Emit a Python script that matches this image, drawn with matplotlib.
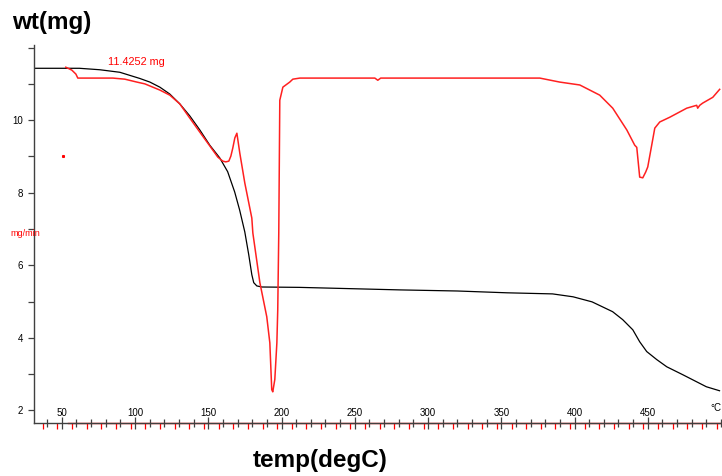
import numpy as np
import matplotlib.pyplot as plt
from matplotlib.ticker import MultipleLocator

# TG trace (black): temperature in degC, weight in mg
tg_temp = [31, 62, 75.9, 89.6, 103.2, 110.1, 116.9, 123.7, 130.5, 137.3,
           144.2, 151.0, 157.8, 163.2, 168.0, 171.4, 174.9, 177.6, 179.7,
           181.0, 183.1, 186.5, 212, 281, 320, 354, 385, 399, 412, 426,
           432.9, 439.8, 444.5, 449.3, 456.1, 463, 474, 490, 499]
tg_wt = [11.43, 11.43, 11.39, 11.32, 11.15, 11.05, 10.91, 10.72, 10.45,
         10.12, 9.73, 9.31, 8.96, 8.58, 8.02, 7.52, 6.92, 6.29, 5.74, 5.52,
         5.43, 5.40, 5.39, 5.32, 5.29, 5.24, 5.21, 5.13, 4.99, 4.72, 4.50,
         4.22, 3.89, 3.62, 3.40, 3.20, 2.98, 2.65, 2.54]

# DTG trace (red), drawn on the same scale
dtg_temp = [52.7, 56.8, 59.6, 60.9, 84.8, 93.0, 101.2, 106.7, 112.1, 116.9,
            123.7, 130.5, 137.3, 144.2, 151.0, 156.5, 159.9, 161.9, 164.0,
            165.4, 166.7, 168.1, 169.5, 171.5, 174.9, 179.7, 180.4, 185.2,
            189.9, 192.0, 193.3, 194.0, 195.4, 196.8, 197.4, 198.1, 198.8,
            200.9, 205.6, 207.7, 212.5, 263.7, 265.7, 267.7, 376.3, 389.9,
            403.6, 417.2, 426.1, 435.7, 441.1, 442.5, 444.5, 446.6, 448.6,
            450.0, 452.7, 454.8, 458.2, 465.0, 476.6, 483.4, 484.1, 485.5,
            487.5, 494.4, 499.1]
dtg_val = [11.46, 11.38, 11.27, 11.16, 11.16, 11.13, 11.05, 11.00, 10.91,
           10.83, 10.69, 10.45, 10.06, 9.67, 9.29, 8.98, 8.87, 8.85, 8.87,
           9.01, 9.23, 9.51, 9.64, 9.09, 8.27, 7.30, 6.89, 5.52, 4.58, 3.86,
           2.57, 2.51, 2.85, 3.86, 4.77, 6.89, 10.55, 10.91, 11.05, 11.13,
           11.16, 11.16, 11.10, 11.16, 11.16, 11.05, 10.97, 10.69, 10.33,
           9.73, 9.31, 9.25, 8.43, 8.41, 8.57, 8.71, 9.31, 9.78, 9.95, 10.08,
           10.33, 10.41, 10.33, 10.41, 10.47, 10.63, 10.85]

y_ticks = [2, 4, 6, 8, 10, 12]
x_ticks = [50, 100, 150, 200, 250, 300, 350, 400, 450]
start_mass = 11.4252

plt.rcParams['font.family'] = ['Liberation Sans', 'DejaVu Sans']

fig = plt.figure(figsize=(7.22, 4.76), dpi=100)
ax = fig.add_axes([0.0471, 0.1113, 0.9515, 0.794])

ax.plot(tg_temp, tg_wt, color='black', lw=0.9)
ax.plot(dtg_temp, dtg_val, color='#ff2020', lw=1.1)
ax.plot([50.7], [9.0], marker='s', ms=1.2, color='red', ls='none')

ax.set_xlim(31, 500)
ax.set_ylim(1.65, 12.07)

for s in ['top', 'right']:
    ax.spines[s].set_visible(False)
for s in ['left', 'bottom']:
    ax.spines[s].set_color('#404040')
    ax.spines[s].set_linewidth(1.0)

ax.set_yticks(y_ticks)
ax.set_yticklabels([str(v) if v < 12 else '' for v in y_ticks])
ax.yaxis.set_minor_locator(MultipleLocator(1))
ax.tick_params(axis='y', which='both', direction='out', length=4,
               width=0.9, color='#404040', labelsize=7, pad=4)

ax.set_xticks(x_ticks)
ax.xaxis.set_minor_locator(MultipleLocator(10))
ax.tick_params(axis='x', which='major', direction='inout', length=8,
               width=0.9, color='#404040', labelsize=7, pad=-15)
ax.tick_params(axis='x', which='minor', direction='inout', length=6,
               width=0.9, color='#404040')

# second (time) scale in red along the bottom
sec = ax.secondary_xaxis('bottom', functions=(lambda t: (t - 27.0) / 10.0,
                                              lambda m: m * 10.0 + 27.0))
sec.xaxis.set_major_locator(MultipleLocator(1))
sec.tick_params(direction='out', length=4, width=0.9, color='red',
                labelbottom=False)
sec.spines['bottom'].set_color('red')
sec.spines['bottom'].set_linewidth(1.0)
sec.spines['bottom'].set_bounds((54 - 27) / 10.0, (500 - 27) / 10.0)

ax.text(1.0, 0.04, '°C', transform=ax.transAxes, fontsize=7,
        ha='right', va='center')
ax.text(108 / 722, 1 - 62 / 476, f'{start_mass} mg', transform=fig.transFigure,
        color='red', fontsize=7.8, ha='left', va='center')
ax.text(10 / 722, 1 - 233 / 476, 'mg/min', transform=fig.transFigure,
        color='red', fontsize=6.5, ha='left', va='center')

fig.text(12 / 722, 1 - 22 / 476, 'wt(mg)', fontsize=17.5, fontweight='bold',
         ha='left', va='center')
fig.text(320 / 722, 1 - 460 / 476, 'temp(degC)', fontsize=17.5,
         fontweight='bold', ha='center', va='center')

fig.savefig('out.png', dpi=100)
